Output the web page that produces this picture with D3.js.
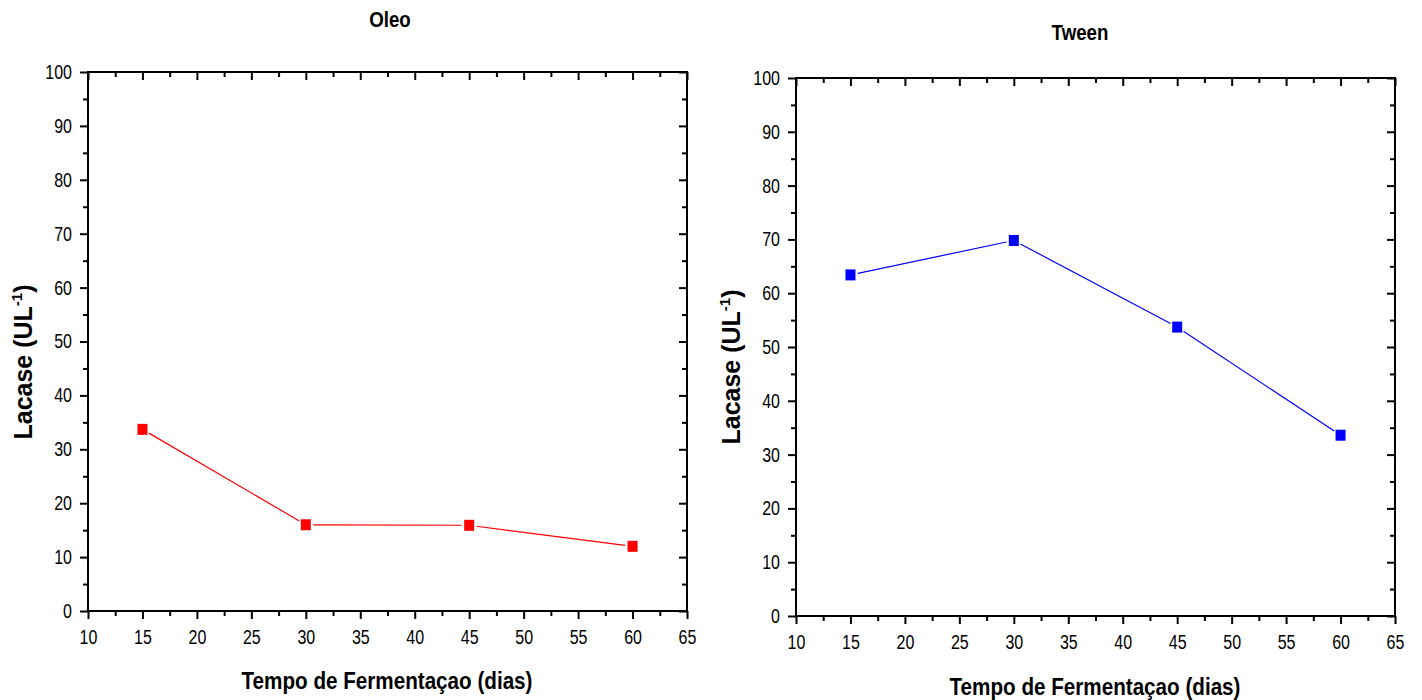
<!DOCTYPE html>
<html>
<head>
<meta charset="utf-8">
<script src="https://cdn.jsdelivr.net/npm/d3@7"></script>
<style>
  body { margin: 0; background: #fff; }
  text { font-family: "Liberation Sans", Arial, sans-serif; }
</style>
</head>
<body>
<div id="chart"></div>
<script>
// data
let dias = [15, 30, 45, 60];
let oleo = [33.7, 16.0, 15.9, 12.0];
let tween = [63.4, 69.8, 53.7, 33.6];
let xTicks = [10, 15, 20, 25, 30, 35, 40, 45, 50, 55, 60, 65];
let yTicks = [0, 10, 20, 30, 40, 50, 60, 70, 80, 90, 100];

const svg = d3.select("#chart").append("svg")
  .attr("width", 1422)
  .attr("height", 700);

// the original fonts look horizontally narrow, squeeze the text a bit
function squeeze(sel, k) {
  sel.each(function() {
    let len = this.getComputedTextLength();
    d3.select(this).attr("textLength", len * k).attr("lengthAdjust", "spacingAndGlyphs");
  });
}

function panel(opts) {
  let g = svg.append("g");
  let x = d3.scaleLinear().domain([10, 65]).range([opts.left, opts.right]);
  let y = d3.scaleLinear().domain([0, 100]).range([opts.bottom, opts.top]);
  let minorX = d3.range(12.5, 65, 5);
  let minorY = d3.range(5, 100, 10);

  // bottom: outward ticks
  g.append("g")
    .attr("transform", `translate(0,${opts.bottom})`)
    .call(d3.axisBottom(x).tickValues(xTicks).tickSize(8).tickPadding(11).tickFormat(d3.format("d")))
    .call(a => a.selectAll("text").attr("font-size", "20px").attr("fill", "#000").call(squeeze, 0.8));
  g.append("g")
    .attr("transform", `translate(0,${opts.bottom})`)
    .call(d3.axisBottom(x).tickValues(minorX).tickSize(5).tickFormat(""))
    .call(a => a.select(".domain").remove());

  // left: outward ticks
  g.append("g")
    .attr("transform", `translate(${opts.left},0)`)
    .call(d3.axisLeft(y).tickValues(yTicks).tickSize(8).tickPadding(8))
    .call(a => a.selectAll("text").attr("font-size", "20px").attr("fill", "#000").call(squeeze, 0.8));
  g.append("g")
    .attr("transform", `translate(${opts.left},0)`)
    .call(d3.axisLeft(y).tickValues(minorY).tickSize(5).tickFormat(""))
    .call(a => a.select(".domain").remove());

  // top: inward ticks
  g.append("g")
    .attr("transform", `translate(0,${opts.top})`)
    .call(d3.axisBottom(x).tickValues(xTicks).tickSize(8).tickFormat(""))
    .call(a => a.select(".domain").remove());
  g.append("g")
    .attr("transform", `translate(0,${opts.top})`)
    .call(d3.axisBottom(x).tickValues(minorX).tickSize(5).tickFormat(""))
    .call(a => a.select(".domain").remove());

  // right: inward ticks
  g.append("g")
    .attr("transform", `translate(${opts.right},0)`)
    .call(d3.axisLeft(y).tickValues(yTicks).tickSize(8).tickFormat(""))
    .call(a => a.select(".domain").remove());
  g.append("g")
    .attr("transform", `translate(${opts.right},0)`)
    .call(d3.axisLeft(y).tickValues(minorY).tickSize(5).tickFormat(""))
    .call(a => a.select(".domain").remove());

  g.selectAll(".tick line").attr("stroke-width", 2);

  // frame
  g.append("rect")
    .attr("x", opts.left)
    .attr("y", opts.top)
    .attr("width", opts.right - opts.left)
    .attr("height", opts.bottom - opts.top)
    .attr("fill", "none")
    .attr("stroke", "#000")
    .attr("stroke-width", 2);
  g.selectAll(".domain").remove();

  // line segments with a small gap before each marker
  let pts = dias.map((d, i) => [x(d), y(opts.values[i])]);
  let gap = 7.5;
  let segs = d3.pairs(pts).map(([a, b]) => {
    let dx = b[0] - a[0], dy = b[1] - a[1];
    let len = Math.sqrt(dx * dx + dy * dy);
    let ux = dx / len, uy = dy / len;
    return [a[0] + ux * gap, a[1] + uy * gap, b[0] - ux * gap, b[1] - uy * gap];
  });
  g.selectAll("line.seg")
    .data(segs)
    .join("line")
      .attr("class", "seg")
      .attr("x1", d => d[0]).attr("y1", d => d[1])
      .attr("x2", d => d[2]).attr("y2", d => d[3])
      .attr("stroke", opts.color)
      .attr("stroke-width", 1.2);

  g.selectAll("rect.pt")
    .data(dias)
    .join("rect")
      .attr("class", "pt")
      .attr("x", (d, i) => x(d) - 5)
      .attr("y", (d, i) => y(opts.values[i]) - 5.5)
      .attr("width", 10)
      .attr("height", 11)
      .attr("fill", opts.color);

  // titles
  g.append("text")
    .attr("x", opts.titleX)
    .attr("y", opts.titleY)
    .attr("text-anchor", "middle")
    .attr("font-size", "22px")
    .attr("font-weight", "bold")
    .text(opts.title)
    .call(squeeze, 0.85);

  g.append("text")
    .attr("x", opts.xLabelX)
    .attr("y", opts.xLabelY)
    .attr("text-anchor", "middle")
    .attr("font-size", "24px")
    .attr("font-weight", "bold")
    .text("Tempo de Fermentaçao (dias)")
    .call(squeeze, 0.86);

  let yl = g.append("text")
    .attr("transform", `translate(${opts.yLabelX},${opts.yLabelY}) rotate(-90)`)
    .attr("text-anchor", "middle")
    .attr("font-size", "25px")
    .attr("font-weight", "bold");
  yl.append("tspan").text("Lacase (UL");
  yl.append("tspan").attr("font-size", "15px").attr("dy", "-10").text("-1");
  yl.append("tspan").attr("dy", "10").text(")");
}

panel({ left: 88, right: 687, top: 72, bottom: 611, values: oleo, color: "#ff0000",
  title: "Oleo", titleX: 390, titleY: 27, xLabelX: 387, xLabelY: 689, yLabelX: 32, yLabelY: 362 });
panel({ left: 796, right: 1395, top: 78, bottom: 616, values: tween, color: "#0000ff",
  title: "Tween", titleX: 1080, titleY: 40, xLabelX: 1095, xLabelY: 695, yLabelX: 740, yLabelY: 367 });
</script>
</body>
</html>
